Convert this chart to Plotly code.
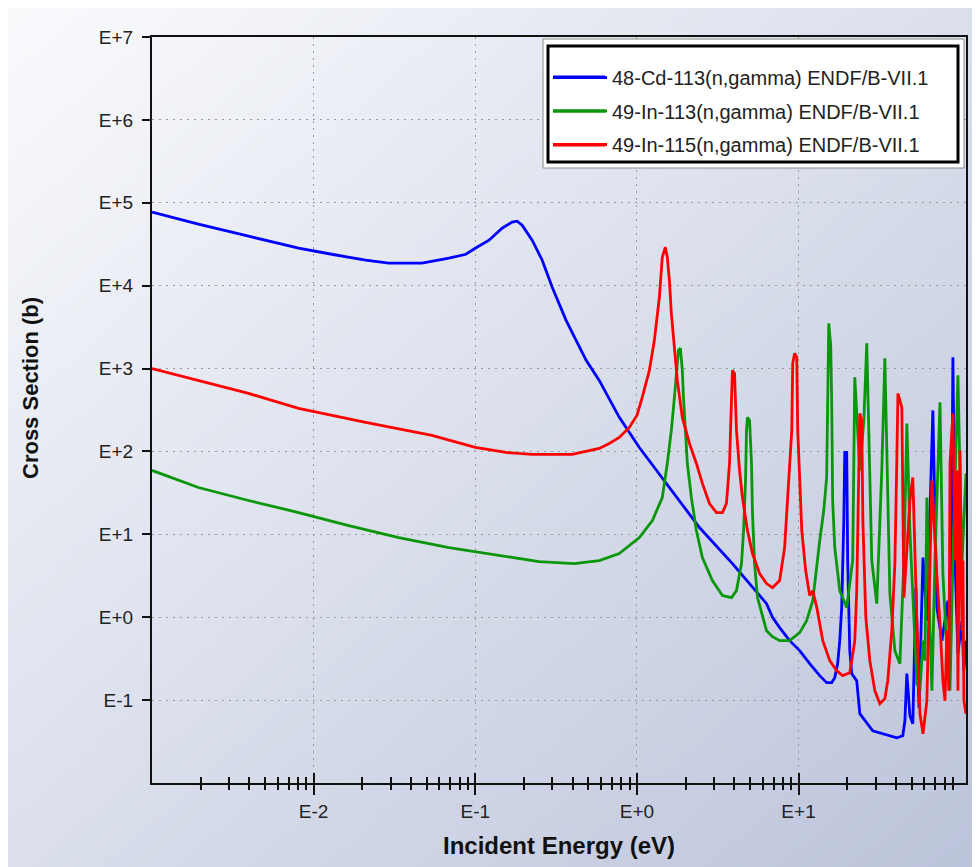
import base64
import struct
import zlib

import numpy as np
import plotly.graph_objects as go

# ---------------- data (log10 units) ----------------
series_names = [
    "48-Cd-113(n,gamma) ENDF/B-VII.1",
    "49-In-113(n,gamma) ENDF/B-VII.1",
    "49-In-115(n,gamma) ENDF/B-VII.1",
]
series_colors = ["#0000ff", "#0a960a", "#ff0000"]

# Cd-113: log10(E / eV), log10(sigma / b)
cd113_log_energy = [
    -3.000, -2.713, -2.403, -2.093, -1.888, -1.678, -1.535, -1.330, -1.163, -1.058,
    -1.000, -0.915, -0.834, -0.772, -0.741, -0.710, -0.648, -0.586, -0.524, -0.481,
    -0.438, -0.376, -0.314, -0.233, -0.109, 0.015, 0.182, 0.387, 0.591, 0.802,
    0.839, 0.883, 0.945, 1.007, 1.069, 1.131, 1.174, 1.205, 1.224, 1.242,
    1.255, 1.267, 1.280, 1.286, 1.298, 1.304, 1.317, 1.329, 1.360, 1.379,
    1.459, 1.608, 1.645, 1.658, 1.670, 1.689, 1.707, 1.726, 1.745, 1.770,
    1.794, 1.831, 1.856, 1.887, 1.924, 1.940, 1.955, 1.970, 1.986, 2.011,
    2.023, 2.036,
]
cd113_log_xs = [
    4.887, 4.742, 4.597, 4.452, 4.379, 4.307, 4.271, 4.271, 4.331, 4.379,
    4.452, 4.548, 4.693, 4.766, 4.778, 4.729, 4.548, 4.307, 3.981, 3.787,
    3.582, 3.341, 3.099, 2.857, 2.411, 2.048, 1.614, 1.082, 0.647, 0.164,
    0.000, -0.125, -0.283, -0.403, -0.560, -0.705, -0.790, -0.790, -0.729, -0.560,
    -0.283, 0.116, 1.167, 1.988, 1.988, 0.684, -0.403, -0.681, -0.766, -1.164,
    -1.370, -1.454, -1.430, -1.249, -0.681, -1.188, -1.285, 0.357, -1.092, 0.720,
    -0.041, 2.495, 0.116, -0.283, 0.200, -0.524, 3.135, 0.563, -0.440, -0.041,
    -0.645, -0.283,
]

# In-113
in113_log_energy = [
    -3.000, -2.713, -2.403, -2.093, -1.783, -1.473, -1.163, -0.853, -0.605, -0.388,
    -0.233, -0.109, 0.015, 0.096, 0.157, 0.188, 0.213, 0.232, 0.244, 0.257,
    0.269, 0.281, 0.288, 0.300, 0.312, 0.337, 0.368, 0.405, 0.467, 0.529,
    0.585, 0.616, 0.647, 0.660, 0.672, 0.678, 0.684, 0.697, 0.709, 0.715,
    0.728, 0.746, 0.777, 0.802, 0.839, 0.883, 0.945, 1.007, 1.050, 1.088,
    1.131, 1.156, 1.174, 1.180, 1.187, 1.199, 1.205, 1.211, 1.224, 1.255,
    1.298, 1.335, 1.348, 1.379, 1.404, 1.422, 1.441, 1.453, 1.484, 1.515,
    1.534, 1.552, 1.565, 1.596, 1.627, 1.652, 1.670, 1.689, 1.732, 1.751,
    1.770, 1.782, 1.794, 1.813, 1.825, 1.844, 1.875, 1.893, 1.918, 1.937,
    1.955, 1.986, 2.011, 2.036,
]
in113_log_xs = [
    1.771, 1.565, 1.408, 1.263, 1.106, 0.961, 0.841, 0.744, 0.671, 0.647,
    0.684, 0.768, 0.961, 1.167, 1.444, 1.855, 2.254, 2.652, 2.978, 3.220,
    3.244, 2.978, 2.652, 2.254, 1.855, 1.444, 1.046, 0.720, 0.442, 0.261,
    0.237, 0.321, 0.647, 1.046, 1.650, 2.254, 2.411, 2.374, 1.855, 1.251,
    0.647, 0.237, 0.000, -0.162, -0.234, -0.283, -0.283, -0.186, -0.041, 0.200,
    0.925, 1.287, 1.686, 2.616, 3.546, 3.280, 2.616, 1.408, 0.841, 0.321,
    0.116, 0.684, 2.894, 1.771, 2.374, 3.304, 1.734, 0.684, 0.164, 1.771,
    3.123, 1.650, 0.285, -0.403, -0.560, 0.684, 2.338, 1.046, -0.802, -0.886,
    -0.283, -0.524, 1.444, -0.162, -0.886, 0.684, 2.592, 0.527, -0.403, -0.886,
    0.684, 2.918, 0.647, 1.734,
]

# In-115
in115_log_energy = [
    -3.000, -2.713, -2.403, -2.093, -1.678, -1.268, -1.000, -0.810, -0.649, -0.400,
    -0.233, -0.171, -0.109, -0.047, 0.000, 0.033, 0.077, 0.108, 0.139, 0.157,
    0.176, 0.188, 0.201, 0.213, 0.232, 0.250, 0.281, 0.325, 0.368, 0.405,
    0.449, 0.492, 0.529, 0.554, 0.573, 0.585, 0.591, 0.604, 0.616, 0.635,
    0.653, 0.684, 0.715, 0.759, 0.802, 0.839, 0.883, 0.914, 0.933, 0.958,
    0.964, 0.976, 0.989, 0.995, 1.020, 1.044, 1.069, 1.088, 1.113, 1.150,
    1.193, 1.236, 1.273, 1.317, 1.329, 1.348, 1.360, 1.373, 1.379, 1.391,
    1.398, 1.416, 1.441, 1.472, 1.503, 1.534, 1.552, 1.577, 1.596, 1.608,
    1.615, 1.639, 1.652, 1.689, 1.707, 1.732, 1.751, 1.770, 1.794, 1.825,
    1.850, 1.875, 1.893, 1.906, 1.918, 1.930, 1.937, 1.955, 1.968, 1.980,
    1.986, 1.999, 2.011, 2.017, 2.023, 2.036,
]
in115_log_xs = [
    3.000, 2.857, 2.700, 2.519, 2.350, 2.193, 2.048, 1.988, 1.964, 1.964,
    2.036, 2.097, 2.169, 2.290, 2.435, 2.652, 2.978, 3.341, 3.860, 4.343,
    4.464, 4.343, 4.065, 3.667, 3.256, 2.857, 2.411, 2.097, 1.855, 1.614,
    1.372, 1.263, 1.263, 1.372, 1.855, 2.652, 2.978, 2.942, 2.254, 1.771,
    1.444, 1.046, 0.768, 0.527, 0.406, 0.357, 0.442, 0.841, 1.444, 2.254,
    3.063, 3.184, 3.135, 2.254, 1.046, 0.563, 0.261, 0.321, 0.116, -0.283,
    -0.524, -0.645, -0.705, -0.669, -0.524, -0.283, 0.321, 1.650, 2.459, 2.374,
    1.167, 0.000, -0.524, -0.886, -1.043, -0.983, -0.766, -0.162, 0.647, 1.891,
    2.700, 2.531, 0.237, 1.408, 1.686, -0.041, -1.164, -1.406, -1.007, 1.650,
    0.684, -0.077, -0.766, -1.007, -0.162, -0.886, 1.855, 2.459, 0.684, 1.771,
    -0.886, 2.012, -0.162, 0.684, -1.007, -1.164,
]

x_tick_vals = [0.01, 0.1, 1, 10]
x_tick_text = ["E-2", "E-1", "E+0", "E+1"]
y_tick_vals = [1e-1, 1e0, 1e1, 1e2, 1e3, 1e4, 1e5, 1e6, 1e7]
y_tick_text = ["E-1", "E+0", "E+1", "E+2", "E+3", "E+4", "E+5", "E+6", "E+7"]
x_minor_vals = [m * 10.0 ** k for k in range(-3, 2) for m in range(2, 10)]
x_title = "Incident Energy (eV)"
y_title = "Cross Section (b)"

# ---------------- background gradient image ----------------
def gradient_png(w, h, c0, c1):
    u = np.linspace(0, 1, w)[None, :]
    v = np.linspace(0, 1, h)[:, None]
    t = 0.5 * u + 0.5 * v
    c0 = np.array(c0, float)
    c1 = np.array(c1, float)
    img = (c0 + (c1 - c0) * t[..., None]).clip(0, 255).astype(np.uint8)
    raw = b"".join(b"\x00" + img[i].tobytes() for i in range(h))

    def chunk(tag, data):
        c = struct.pack(">I", len(data)) + tag + data
        return c + struct.pack(">I", zlib.crc32(tag + data) & 0xFFFFFFFF)

    png = (b"\x89PNG\r\n\x1a\n"
           + chunk(b"IHDR", struct.pack(">IIBBBBB", w, h, 8, 2, 0, 0, 0))
           + chunk(b"IDAT", zlib.compress(raw, 9))
           + chunk(b"IEND", b""))
    return "data:image/png;base64," + base64.b64encode(png).decode()


# the page adds an 8px body margin, so figure coords = screen coords - 8
W, H = 980, 867
L, T = 144, 29
PW, PH = 814, 746
R, B = W - L - PW, H - T - PH

def px(xs):  # screen x -> paper x
    return (xs - 152) / PW

def py(ys):  # screen y -> paper y
    return (783 - ys) / PH

FONT = "Liberation Sans, Arial, Helvetica, sans-serif"
LINE_W = 2.8

fig = go.Figure()

all_series = [
    (cd113_log_energy, cd113_log_xs),
    (in113_log_energy, in113_log_xs),
    (in115_log_energy, in115_log_xs),
]
for i, ((le, ls), name, color) in enumerate(zip(all_series, series_names, series_colors)):
    fig.add_trace(go.Scatter(
        x=10.0 ** np.array(le), y=10.0 ** np.array(ls),
        mode="lines", name=name, legendgroup=str(i),
        line=dict(color=color, width=LINE_W),
    ))

# empty trace to carry the overlay axis (inner halves of crossing ticks)
fig.add_trace(go.Scatter(x=[], y=[], xaxis="x2", showlegend=False, hoverinfo="skip"))

# legend frame + longer legend line samples (drawn under the legend)
legend_rows = [77, 111, 145]
shapes = [
    dict(type="rect", xref="paper", yref="paper",
         x0=px(543), x1=px(964), y0=py(168), y1=py(39),
         line=dict(color="#8a8a8a", width=1), fillcolor="#ffffff", layer="above"),
    dict(type="rect", xref="paper", yref="paper",
         x0=px(548), x1=px(958), y0=py(162), y1=py(46),
         line=dict(color="#000000", width=3), fillcolor="rgba(0,0,0,0)", layer="above"),
]
for row, color in zip(legend_rows, series_colors):
    shapes.append(dict(type="line", xref="paper", yref="paper",
                       x0=px(553), x1=px(605), y0=py(row), y1=py(row),
                       line=dict(color=color, width=LINE_W), layer="above"))

axis_color = "#111111"
fig.update_layout(
    width=W, height=H,
    margin=dict(l=L, r=R, t=T, b=B),
    paper_bgcolor="#ffffff",
    plot_bgcolor="#ffffff",
    font=dict(family=FONT, color="#222222", size=18),
    images=[dict(
        source=gradient_png(196, 174, (250, 251, 253), (188, 196, 219)),
        xref="paper", yref="paper",
        x=-L / PW, y=1 + T / PH, sizex=W / PW, sizey=H / PH,
        xanchor="left", yanchor="top", sizing="stretch", layer="below",
    )],
    xaxis=dict(
        type="log", range=[-3, 2.036],
        showline=True, linecolor=axis_color, linewidth=2, mirror=True,
        ticks="outside", ticklen=10, tickwidth=2, tickcolor=axis_color,
        tickvals=x_tick_vals, ticktext=x_tick_text,
        tickfont=dict(size=19, color="#222222"),
        showgrid=True, gridcolor="#9a9a9a", gridwidth=1, griddash="2px,5px",
        zeroline=False,
        minor=dict(tickvals=x_minor_vals, ticks="outside", ticklen=5,
                   tickwidth=2, tickcolor=axis_color, showgrid=False),
        title=dict(text=x_title, standoff=16,
                   font=dict(size=24, weight="bold", color="#111111")),
    ),
    xaxis2=dict(
        type="log", range=[-3, 2.036], overlaying="x", anchor="y", side="bottom",
        showline=False, showgrid=False, zeroline=False, showticklabels=False,
        ticks="inside", ticklen=10, tickwidth=2, tickcolor=axis_color,
        tickvals=x_tick_vals,
        minor=dict(tickvals=x_minor_vals, ticks="inside", ticklen=6,
                   tickwidth=2, tickcolor=axis_color, showgrid=False),
    ),
    yaxis=dict(
        type="log", range=[-2, 7],
        showline=True, linecolor=axis_color, linewidth=2, mirror=True,
        ticks="outside", ticklen=8, tickwidth=2, tickcolor=axis_color,
        tickvals=y_tick_vals, ticktext=y_tick_text,
        tickfont=dict(size=19, color="#222222"),
        ticklabelstandoff=5,
        showgrid=True, gridcolor="#9a9a9a", gridwidth=1, griddash="2px,5px",
        zeroline=False,
    ),
    annotations=[dict(
        text=y_title, textangle=-90, xref="paper", yref="paper",
        x=px(30), y=py(388), xanchor="center", yanchor="middle", showarrow=False,
        font=dict(size=22, weight="bold", color="#111111", family=FONT),
    )],
    showlegend=True,
    legend=dict(
        x=px(548), y=py(58), xanchor="left", yanchor="top",
        bgcolor="rgba(0,0,0,0)", borderwidth=0,
        font=dict(size=20, color="#222222", family=FONT),
        itemwidth=54, tracegroupgap=4.5, traceorder="grouped",
    ),
    shapes=shapes,
)

fig.write_html("out.html")
